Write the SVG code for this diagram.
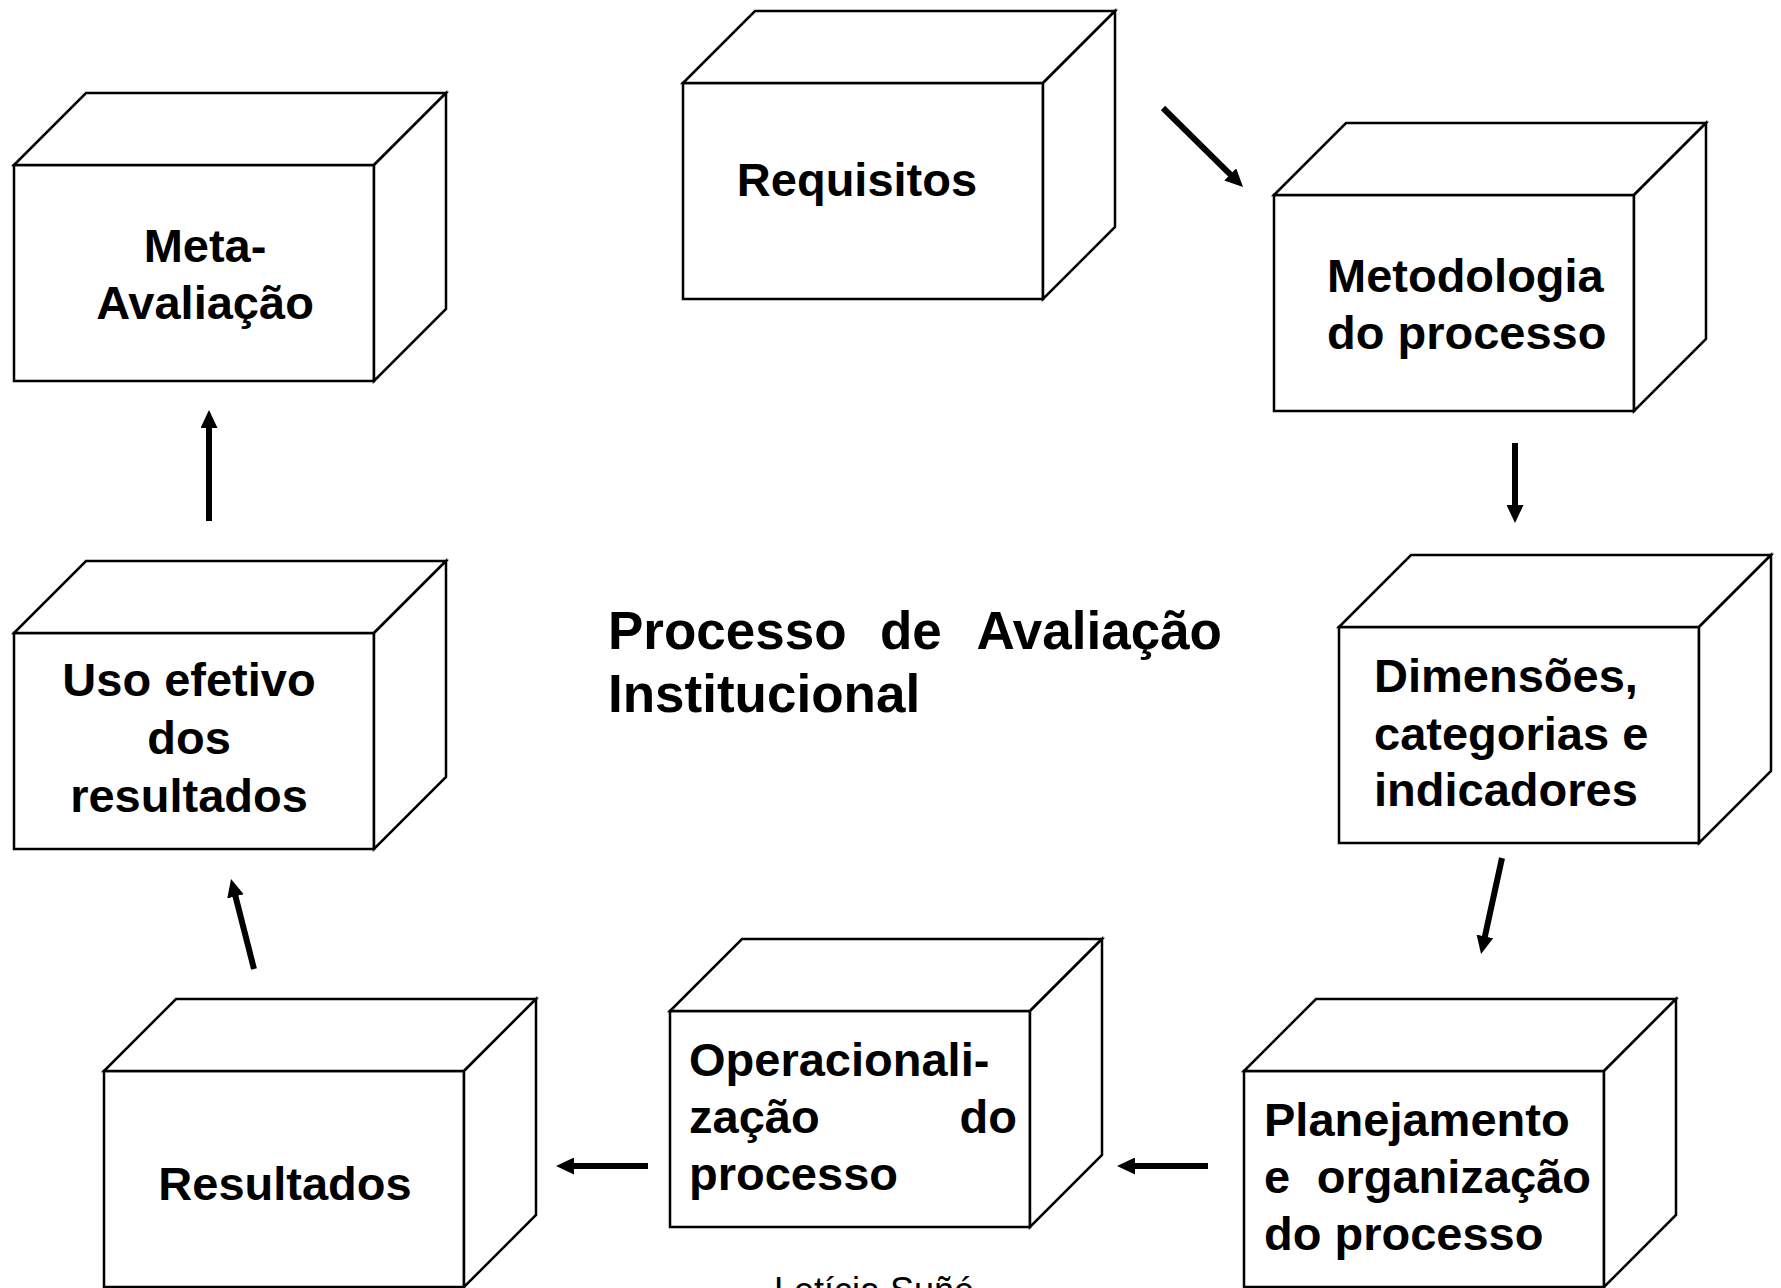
<svg xmlns="http://www.w3.org/2000/svg" width="1781" height="1288" viewBox="0 0 1781 1288">
<defs>
<style>
.face{fill:#fff;stroke:#000;stroke-width:2.5;stroke-linejoin:miter}
.t{font-family:"Liberation Sans",Arimo,Arial,sans-serif;font-weight:bold;font-size:47px;fill:#000}
.title{font-family:"Liberation Sans",Arimo,Arial,sans-serif;font-weight:bold;font-size:53px;fill:#000}
.foot{font-family:"Liberation Sans",Arimo,Arial,sans-serif;font-size:36px;fill:#000}
.arr{stroke:#000;stroke-width:6;fill:none;marker-end:url(#ah)}
</style>
<marker id="ah" markerUnits="userSpaceOnUse" markerWidth="18" markerHeight="17" viewBox="0 0 18 17" refX="6" refY="8.5" orient="auto">
<path d="M0,0 L18,8.5 L0,17 Z" fill="#000"/>
</marker>
</defs>
<rect width="1781" height="1288" fill="#fff"/>

<g id="meta-avaliacao">
<rect class="face" x="14" y="165" width="360" height="216"/>
<polygon class="face" points="14,165 86,93 446,93 374,165"/>
<polygon class="face" points="374,165 446,93 446,309 374,381"/>
<text class="t" x="205" y="262" text-anchor="middle">Meta-</text>
<text class="t" x="205" y="319" text-anchor="middle">Avaliação</text>
</g>

<g id="requisitos">
<rect class="face" x="683" y="83" width="360" height="216"/>
<polygon class="face" points="683,83 755,11 1115,11 1043,83"/>
<polygon class="face" points="1043,83 1115,11 1115,227 1043,299"/>
<text class="t" x="857" y="196" text-anchor="middle">Requisitos</text>
</g>

<g id="metodologia">
<rect class="face" x="1274" y="195" width="360" height="216"/>
<polygon class="face" points="1274,195 1346,123 1706,123 1634,195"/>
<polygon class="face" points="1634,195 1706,123 1706,339 1634,411"/>
<text class="t" x="1327" y="292">Metodologia</text>
<text class="t" x="1327" y="349">do processo</text>
</g>

<g id="dimensoes">
<rect class="face" x="1339" y="627" width="360" height="216"/>
<polygon class="face" points="1339,627 1411,555 1771,555 1699,627"/>
<polygon class="face" points="1699,627 1771,555 1771,771 1699,843"/>
<text class="t" x="1374" y="692">Dimensões,</text>
<text class="t" x="1374" y="750">categorias e</text>
<text class="t" x="1374" y="806">indicadores</text>
</g>

<g id="planejamento">
<rect class="face" x="1244" y="1071" width="360" height="216"/>
<polygon class="face" points="1244,1071 1316,999 1676,999 1604,1071"/>
<polygon class="face" points="1604,1071 1676,999 1676,1215 1604,1287"/>
<text class="t" x="1264" y="1136">Planejamento</text>
<text class="t" x="1264" y="1193">e</text>
<text class="t" x="1591" y="1193" text-anchor="end">organização</text>
<text class="t" x="1264" y="1250">do processo</text>
</g>

<g id="operacionalizacao">
<rect class="face" x="670" y="1011" width="360" height="216"/>
<polygon class="face" points="670,1011 742,939 1102,939 1030,1011"/>
<polygon class="face" points="1030,1011 1102,939 1102,1155 1030,1227"/>
<text class="t" x="689" y="1076">Operacionali-</text>
<text class="t" x="689" y="1133">zação</text>
<text class="t" x="1017" y="1133" text-anchor="end">do</text>
<text class="t" x="689" y="1190">processo</text>
</g>

<g id="resultados">
<rect class="face" x="104" y="1071" width="360" height="216"/>
<polygon class="face" points="104,1071 176,999 536,999 464,1071"/>
<polygon class="face" points="464,1071 536,999 536,1215 464,1287"/>
<text class="t" x="285" y="1200" text-anchor="middle">Resultados</text>
</g>

<g id="uso-efetivo">
<rect class="face" x="14" y="633" width="360" height="216"/>
<polygon class="face" points="14,633 86,561 446,561 374,633"/>
<polygon class="face" points="374,633 446,561 446,777 374,849"/>
<text class="t" x="189" y="696" text-anchor="middle">Uso efetivo</text>
<text class="t" x="189" y="754" text-anchor="middle">dos</text>
<text class="t" x="189" y="812" text-anchor="middle">resultados</text>
</g>

<g id="title">
<text class="title" x="608" y="649">Processo</text>
<text class="title" x="880" y="649">de</text>
<text class="title" x="1222" y="649" text-anchor="end">Avaliação</text>
<text class="title" x="608" y="712">Institucional</text>
</g>

<g id="connectors">
<line class="arr" x1="1163" y1="108" x2="1234.5" y2="178.6"/>
<line class="arr" x1="1515" y1="443" x2="1515" y2="511"/>
<line class="arr" x1="1502" y1="858" x2="1483.6" y2="942.3"/>
<line class="arr" x1="1208" y1="1166" x2="1129" y2="1166"/>
<line class="arr" x1="648" y1="1166" x2="568" y2="1166"/>
<line class="arr" x1="254" y1="969" x2="234" y2="890.6"/>
<line class="arr" x1="209" y1="521" x2="209" y2="422"/>
</g>

<text class="foot" x="774" y="1303">Letícia Suñé</text>
</svg>
